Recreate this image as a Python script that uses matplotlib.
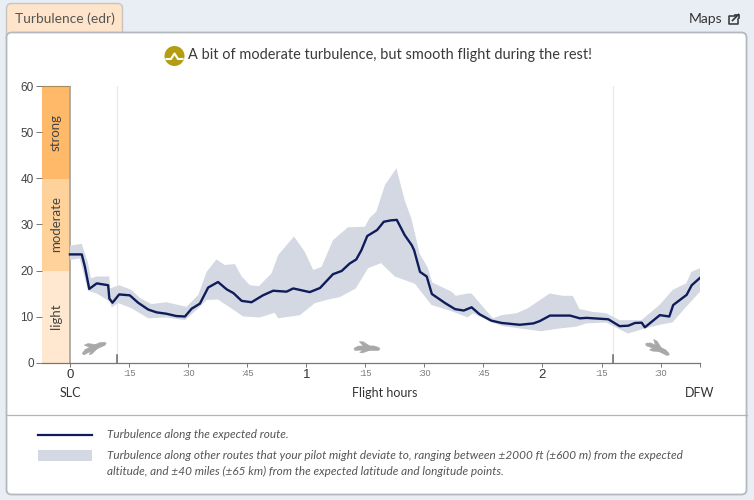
import matplotlib
matplotlib.use("Agg")
import matplotlib.pyplot as plt
from matplotlib.patches import FancyBboxPatch, Circle, Rectangle, Polygon
from matplotlib.transforms import Affine2D

# ---- data (minutes, edr) ----
route_min = [0,3,3.8,4.9,6.8,9.7,10,10.8,12.5,15.2,17.3,19.9,22,24.5,27,29.2,30.9,33,35.1,37.6,39.8,41.5,43.6,46.1,49,51.6,55,56.7,60.9,63.5,66.8,69,71,72.7,74,75.5,78,79.7,81.5,83,85,86.8,87.4,88.9,90.6,91.9,95.3,97.8,100,102,104,107,109.6,114.2,117.7,119.3,121.9,127,129.5,131.2,136.7,139.6,141.8,143.5,145.2,146,149.8,152.2,153.2,156.6,157.9,160]
route_val = [23.5,23.5,20.8,16,17.2,16.8,13.9,13,14.8,14.6,13,11.5,10.9,10.6,10.1,10,11.7,12.8,16.3,17.5,15.9,15.1,13.4,13.1,14.6,15.6,15.4,16.1,15.3,16.2,19.2,19.9,21.5,22.4,24.4,27.5,28.8,30.6,30.9,31,27.7,25.5,24.4,19.7,18.7,14.9,12.9,11.6,11.3,12,10.5,9.1,8.6,8.2,8.5,9,10.2,10.2,9.6,9.7,9.4,7.9,8,8.6,8.65,7.65,10.3,10,12.5,14.7,16.8,18.4]

upper_min = [0,3,4.6,5.3,6.8,10,10.2,12.5,15.6,17.8,20.7,24.5,29.6,32.6,34.7,37.2,39.3,41.9,43.6,45.7,48,51.2,52.9,56.9,59.6,61.8,63.9,66.8,70.6,74.9,76.1,77.8,80,82.9,85,86.7,88.8,90.9,92,96.9,98,101,102,104.5,107.4,109.6,113.4,116.3,121.8,125.2,127.7,129.4,132.8,136.2,139.6,145.1,149.7,153.1,156.5,157.8,160]
upper_val = [25.4,25.8,21.6,18.3,18.7,18.7,16.1,16.8,15.8,14,12.7,13.1,12.1,14.7,19.7,22.4,21.2,21.4,18.7,16.8,16.6,19.4,23.4,27.4,24.1,20.1,20.8,26.6,29.4,29.5,31.4,32.8,38.6,42.2,35.3,31.3,23.7,20.5,17.4,15.4,14.5,15,15,12.5,9.6,10.3,10.7,11.8,15,14.5,14.5,11.6,11,10.7,9.2,9.2,12.5,15.8,17.2,19.7,20.5]

lower_min = [0,2.5,4.6,6.8,10.2,10.6,12.3,15.6,19.9,24.5,29.2,32.6,34.7,37.6,42.3,44,48.2,52,52.9,58.4,62.2,65.6,68.5,72.6,75.7,79,82.5,87.6,91.8,96.4,101,102.4,106.6,110,115.9,119.7,124.4,128.6,131.1,136.2,141.7,146,149.7,153,156.5,160]
lower_val = [22.3,22.6,15.6,15,13.2,12,12.9,11.8,9.6,9.8,9.2,11.8,13.6,13.7,11,10,9.8,10.8,9.6,10.3,12.9,13.7,14.2,16.1,20.5,21.6,18.7,17.1,12.5,11.3,9.8,10.7,8.9,7.9,7.2,6.8,7.4,7.8,8.5,8.7,6.3,7.4,8.2,8.7,12.1,15.4]

band_names = ["light", "moderate", "strong"]
band_low = [0, 20, 40]
band_high = [20, 40, 60]
band_cols = ["#ffe8cf", "#ffd29c", "#ffb968"]

tick_min = [0,15,30,45,60,75,90,105,120,135,150,160]
tick_lab = ["0",":15",":30",":45","1",":15",":30",":45","2",":15",":30",""]
y_ticks = [0,10,20,30,40,50,60]
phase_min = [12, 138]

title = "A bit of moderate turbulence, but smooth flight during the rest!"
leg1 = "Turbulence along the expected route."
leg2 = "Turbulence along other routes that your pilot might deviate to, ranging between ±2000 ft (±600 m) from the expected"
leg3 = "altitude, and ±40 miles (±65 km) from the expected latitude and longitude points."

NAVY = "#0e1c5a"; BAND = "#d4d8e3"; TXT = "#444444"; UI = "Lato"; TICK = "Liberation Sans"

fig = plt.figure(figsize=(7.54, 5.0), dpi=100, facecolor="#e9eef5")

# page furniture in pixel coordinates
bg = fig.add_axes([0, 0, 1, 1], zorder=0)
bg.set_xlim(0, 754); bg.set_ylim(500, 0); bg.axis("off")
bg.add_patch(FancyBboxPatch((6.5, 3.5), 116, 40, boxstyle="round,pad=0,rounding_size=5", fc="#fde4ca", ec="#c8c4bd", lw=1, zorder=1))
bg.add_patch(FancyBboxPatch((6.5, 32.5), 740, 462, boxstyle="round,pad=0,rounding_size=5", fc="white", ec="#b4b9bf", lw=1.3, zorder=1.5))
bg.plot([6.5, 746.5], [414.5, 414.5], color="#b0b4b9", lw=0.9, zorder=1.6)
bg.text(15, 19, "Turbulence (edr)", family=UI, fontsize=9.9, color="#555555", va="center", ha="left", zorder=2)
bg.text(689, 19, "Maps", family=UI, fontsize=10, color="#333333", va="center", ha="left", zorder=2)
bg.plot([735, 729, 729, 738, 738], [15.5, 15.5, 24, 24, 19], color="#333333", lw=1.1, zorder=2)
bg.plot([732.5, 738.5], [20.5, 14.5], color="#333333", lw=1.2, zorder=2)
bg.plot([734.5, 738.5, 738.5], [14.5, 14.5, 18], color="#333333", lw=1.2, zorder=2)
bg.add_patch(Circle((174.5, 56), 10, fc="#b59d12", ec="none", zorder=2))
bg.plot([166.5, 171, 174.5, 178, 182.5], [59, 59, 53.5, 59, 59], color="white", lw=1.5, zorder=3)
bg.text(188.5, 55, title, family=UI, fontsize=10.45, color="#3a3a3a", va="center", ha="left", zorder=2)

bg.plot([38, 92], [434.5, 434.5], color=NAVY, lw=1.6, zorder=2)
bg.add_patch(Rectangle((38, 449.5), 54, 11, fc=BAND, ec="none", zorder=2))
for txt, yy in zip([leg1, leg2, leg3], [434.5, 455, 471]):
    bg.text(107, yy, txt, family=UI, style="italic", fontsize=8.5, color="#555555", va="center", ha="left", zorder=2)
bg.text(70, 393, "SLC", family=UI, fontsize=9, color="#333333", ha="center", va="center", zorder=2)
bg.text(385, 393, "Flight hours", family=UI, fontsize=9, color="#333333", ha="center", va="center", zorder=2)
bg.text(700, 393, "DFW", family=UI, fontsize=9, color="#333333", ha="center", va="center", zorder=2)

# chart
L, R, T, B = 42, 700, 86.5, 362.5
ax = fig.add_axes([L/754, 1-B/500, (R-L)/754, (B-T)/500], zorder=2)
ax.patch.set_alpha(0)
ax.set_xlim(-7.1, 160); ax.set_ylim(0, 60)
for s in ["top", "right", "left"]:
    ax.spines[s].set_visible(False)
ax.spines["bottom"].set_color("#777777"); ax.spines["bottom"].set_linewidth(0.9)

for name, lo, hi, col in zip(band_names, band_low, band_high, band_cols):
    ax.bar(-3.55, hi-lo, bottom=lo, width=7.1, color=col, linewidth=0)
    ax.text(-3.55, (lo+hi)/2, name, rotation=90, ha="center", va="center", family=UI, fontsize=9.5, color="#444444")
ax.plot([-7.1, 0], [60, 60], color="#a88a5a", lw=0.8, clip_on=False)
ax.axvline(0, color="#a5a19a", lw=1.2)
for m in phase_min:
    ax.axvline(m, color="#e9e9e9", lw=0.9, zorder=0)
    ax.plot([m, m], [0, 1.6], color="#666666", lw=1.1)

ax.fill(upper_min + lower_min[::-1], upper_val + lower_val[::-1], color=BAND, lw=0, zorder=2)
ax.plot(route_min, route_val, color=NAVY, lw=1.7, zorder=3, solid_joinstyle="round")

ax.set_yticks(y_ticks)
ax.tick_params(axis="y", length=4.5, width=0.7, color="#777777", pad=1.5, labelsize=8.5, labelcolor=TXT)
ax.set_xticks(tick_min); ax.set_xticklabels(tick_lab)
ax.tick_params(axis="x", length=3, width=0.7, color="#777777", pad=2)
for lab, s in zip(ax.get_xticklabels(), tick_lab):
    big = not s.startswith(":")
    lab.set_fontsize(9.5 if big else 6.5)
    lab.set_color("#333333" if big else "#777777")
for lab in ax.get_xticklabels() + ax.get_yticklabels():
    lab.set_family(TICK)

# aircraft pictograms (decoration, in page pixels)
plane_body = [(-12,1),(-8,-1.5),(8,-2.5),(13,-1),(14,0.5),(12,2),(-6,2.5),(-11,3)]
wing_a = [(-2,-1),(-7,-6),(-3,-6),(5,-1.5)]
wing_b = [(-3,2),(-6,5),(-3,5),(4,2)]
for cx, cy, ang in [(93, 348, -22), (366, 348, 3), (657, 348, 28)]:
    tr = Affine2D().rotate_deg(ang).translate(cx, cy) + bg.transData
    for poly in [plane_body, wing_a, wing_b]:
        bg.add_patch(Polygon(poly, closed=True, fc="#a8a8a8", ec="#a8a8a8", lw=0.4, transform=tr, zorder=3))

fig.savefig("out.png", dpi=100, facecolor=fig.get_facecolor())
